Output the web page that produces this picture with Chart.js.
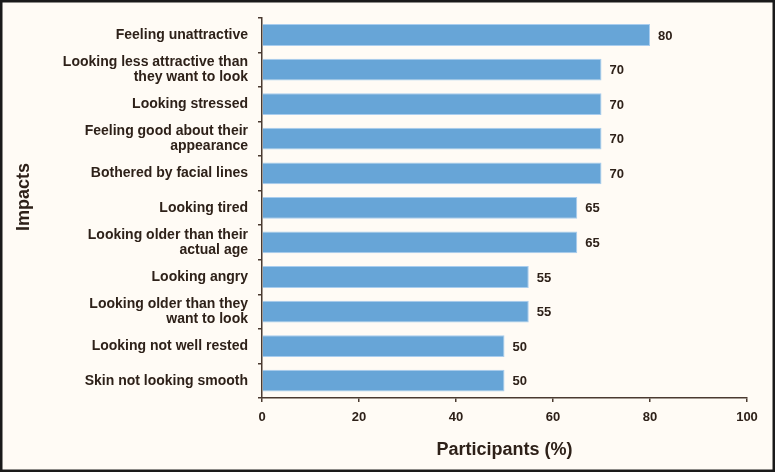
<!DOCTYPE html>
<html>
<head>
<meta charset="utf-8">
<script src="https://cdn.jsdelivr.net/npm/chart.js@4"></script>
<style>
  html, body { margin: 0; padding: 0; background: #fffbf5; }
  #wrap { width: 775px; height: 472px; }
</style>
</head>
<body>
<div id="wrap"><canvas id="impactChart" width="775" height="472"></canvas></div>
<script>
// ---------- DATA ----------
const impacts = [
  "Feeling unattractive",
  ["Looking less attractive than", "they want to look"],
  "Looking stressed",
  ["Feeling good about their", "appearance"],
  "Bothered by facial lines",
  "Looking tired",
  ["Looking older than their", "actual age"],
  "Looking angry",
  ["Looking older than they", "want to look"],
  "Looking not well rested",
  "Skin not looking smooth",
];
const participants = [80, 70, 70, 70, 70, 65, 65, 55, 55, 50, 50];
const xTicks = [0, 20, 40, 60, 80, 100];

const TEXT = "#2e2119";
const AXIS = "#4a3a30";
const FONT = "'Liberation Sans', Arial, sans-serif";

// ---------- PLUGINS ----------
const frame = {
  id: "frame",
  beforeDraw(chart) {
    const { ctx, width, height } = chart;
    ctx.save();
    ctx.fillStyle = "#fffbf5";
    ctx.fillRect(0, 0, width, height);
    ctx.restore();
  },
  afterDraw(chart) {
    const { ctx, width, height } = chart;
    ctx.save();
    ctx.strokeStyle = "#1a1a1a";
    ctx.lineWidth = 2.5;
    ctx.strokeRect(1.25, 1.25, width - 2.5, height - 2.5);
    // y axis title, sits a little above the plot centre
    ctx.translate(24, 197);
    ctx.rotate(-Math.PI / 2);
    ctx.font = "bold 18px " + FONT;
    ctx.fillStyle = TEXT;
    ctx.textAlign = "center";
    ctx.textBaseline = "middle";
    ctx.fillText("Impacts", 0, 0);
    ctx.restore();
  },
};

const valueLabels = {
  id: "valueLabels",
  afterDatasetsDraw(chart) {
    const { ctx } = chart;
    const meta = chart.getDatasetMeta(0);
    ctx.save();
    ctx.font = "bold 13px " + FONT;
    ctx.fillStyle = TEXT;
    ctx.textAlign = "left";
    ctx.textBaseline = "middle";
    meta.data.forEach((bar, i) => {
      ctx.fillText(String(participants[i]), bar.x + 8, bar.y + 1);
    });
    ctx.restore();
  },
};

// ---------- CHART ----------
new Chart(document.getElementById("impactChart"), {
  type: "bar",
  data: {
    labels: impacts,
    datasets: [
      {
        label: "Participants (%)",
        data: participants,
        backgroundColor: "#67a5d7",
        borderColor: "#a9cdee",
        borderWidth: 1,
        borderSkipped: "left",
        barPercentage: 0.63,
        categoryPercentage: 1,
      },
    ],
  },
  options: {
    indexAxis: "y",
    responsive: false,
    animation: false,
    layout: { padding: { top: 16, right: 28, bottom: 0, left: 0 } },
    plugins: { legend: { display: false }, tooltip: { enabled: false } },
    scales: {
      x: {
        min: 0,
        max: 100,
        afterBuildTicks(scale) {
          scale.ticks = xTicks.map((v) => ({ value: v }));
        },
        afterFit(scale) {
          scale.height = 74;
        },
        border: { display: true, color: AXIS, width: 1.5 },
        grid: {
          drawOnChartArea: false,
          drawTicks: true,
          tickLength: 4,
          color: AXIS,
          lineWidth: 1.5,
        },
        ticks: {
          padding: 8,
          color: TEXT,
          font: { family: FONT, size: 13, weight: "bold" },
        },
        title: {
          display: true,
          text: "Participants (%)",
          color: TEXT,
          font: { family: FONT, size: 18, weight: "bold" },
          padding: { top: 0, bottom: 11 },
        },
      },
      y: {
        afterFit(scale) {
          scale.width = 262;
        },
        border: { display: true, color: AXIS, width: 1.5 },
        grid: {
          drawOnChartArea: false,
          drawTicks: true,
          tickLength: 4,
          color: AXIS,
          lineWidth: 1.5,
          offset: true,
        },
        ticks: {
          padding: 10,
          color: TEXT,
          autoSkip: false,
          font: { family: FONT, size: 14, weight: "bold", lineHeight: 1.1 },
        },
        title: { display: false },
      },
    },
  },
  plugins: [frame, valueLabels],
});
</script>
</body>
</html>
